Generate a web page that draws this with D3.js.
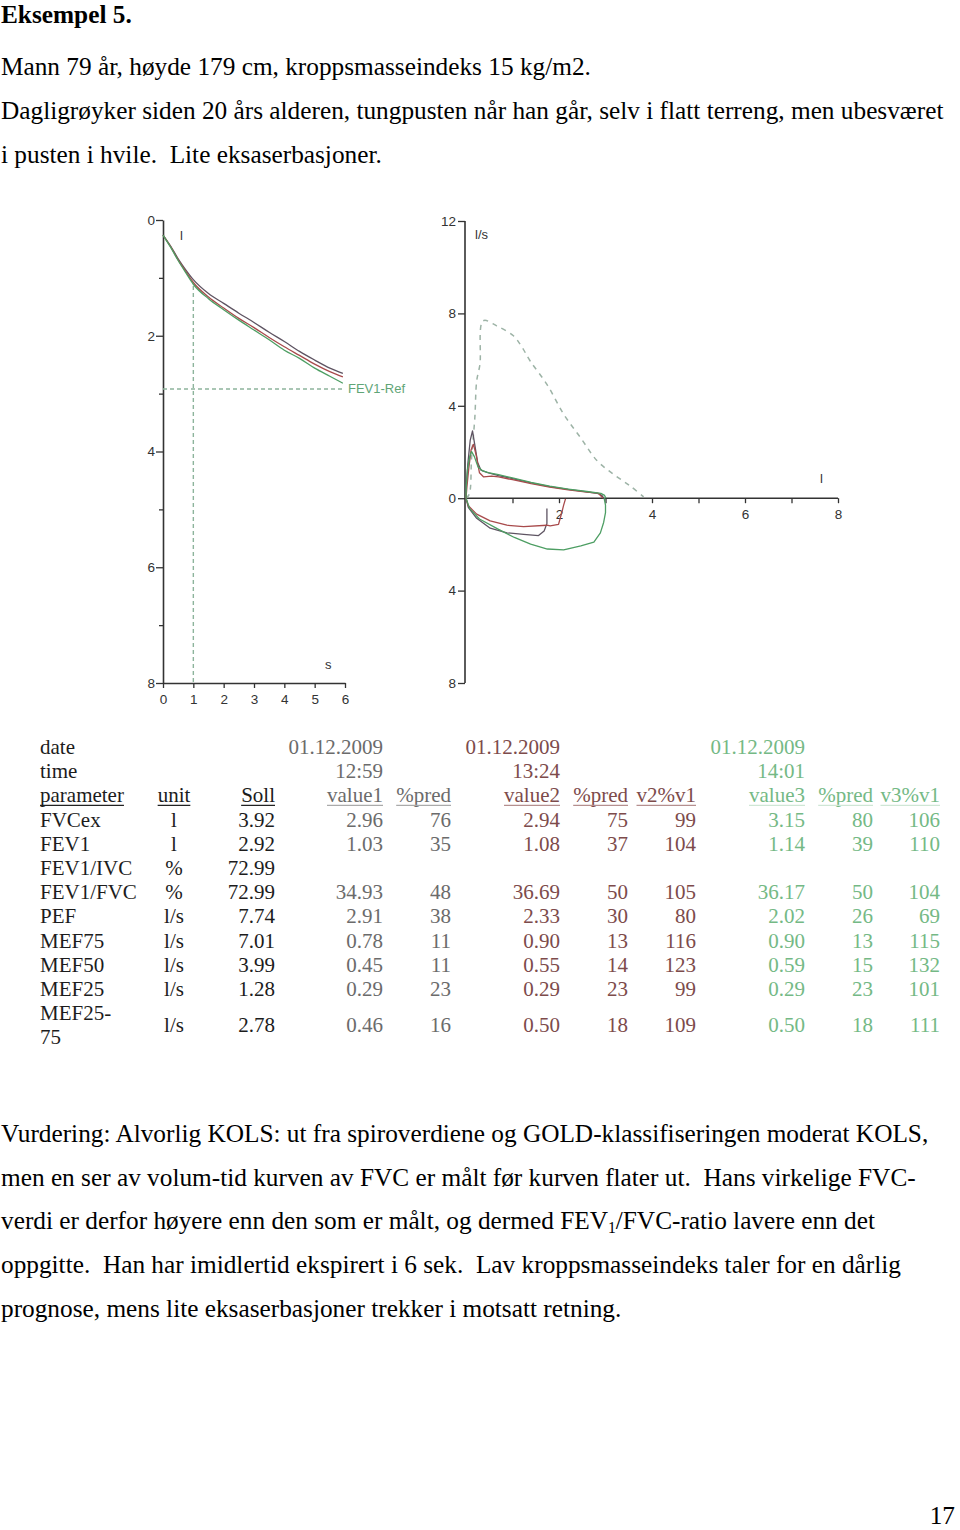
<!DOCTYPE html>
<html><head><meta charset="utf-8">
<script src="https://cdn.jsdelivr.net/npm/d3@7"></script>
<style>
html,body{margin:0;padding:0;background:#fff;}
svg{display:block;}
</style></head>
<body>
<svg id="page" width="960" height="1530"></svg>
<script>
// ---------------- DATA ----------------
const titleText = "Eksempel 5.";
const introLines = [
  "Mann 79 år, høyde 179 cm, kroppsmasseindeks 15 kg/m2.",
  "Dagligrøyker siden 20 års alderen, tungpusten når han går, selv i flatt terreng, men ubesværet",
  "i pusten i hvile.  Lite eksaserbasjoner."
];
const paraLines = [
  "Vurdering: Alvorlig KOLS: ut fra spiroverdiene og GOLD-klassifiseringen moderat KOLS,",
  "men en ser av volum-tid kurven av FVC er målt før kurven flater ut.  Hans virkelige FVC-",
  "verdi er derfor høyere enn den som er målt, og dermed FEV|1|/FVC-ratio lavere enn det",
  "oppgitte.  Han har imidlertid ekspirert i 6 sek.  Lav kroppsmasseindeks taler for en dårlig",
  "prognose, mens lite eksaserbasjoner trekker i motsatt retning."
];
const pageNumber = "17";

// Volume-time curves: time (s), volume (l)
const vtTime = [0, 0.25, 0.5, 0.75, 1, 1.5, 2, 2.5, 3, 3.5, 4, 4.5, 5, 5.5, 5.93];
const vtVol1 = [0.26, 0.45, 0.67, 0.86, 1.03, 1.27, 1.44, 1.61, 1.77, 1.94, 2.10, 2.27, 2.42, 2.56, 2.65];
const vtVol2 = [0.26, 0.46, 0.69, 0.89, 1.08, 1.33, 1.52, 1.70, 1.86, 2.03, 2.19, 2.34, 2.49, 2.62, 2.71];
const vtVol3 = [0.26, 0.47, 0.70, 0.91, 1.11, 1.36, 1.55, 1.73, 1.90, 2.07, 2.25, 2.39, 2.56, 2.70, 2.82];
const fev1Ref = 2.92;
const fev1Time = 1;
const fev1Measured = 1.14;
const vtYTicks = [0, 1, 2, 3, 4, 5, 6, 7, 8];
const vtXTicks = [0, 1, 2, 3, 4, 5, 6];

// Flow-volume: [volume l, flow l/s]
const fvPred = [[0,0],[0.07,0.17],[0.12,1.76],[0.19,3.49],[0.23,5.08],[0.30,5.80],[0.37,7.68],[0.66,7.46],[1.02,7.03],[1.20,6.55],[1.38,5.94],[1.74,4.93],[2.10,3.64],[2.46,2.63],[2.82,1.62],[3.17,1.04],[3.53,0.53],[3.82,0.06]];
const fvExp1 = [[0,0],[0.01,0.6],[0.04,1.5],[0.09,2.5],[0.14,2.91],[0.19,2.3],[0.25,1.55],[0.32,1.22],[0.45,1.12],[0.7,0.98],[1.0,0.85],[1.4,0.66],[1.8,0.50],[2.2,0.38],[2.6,0.27],[2.85,0.20],[2.93,0.10],[2.96,0]];
const fvExp2 = [[0,0],[0.02,0.5],[0.06,1.3],[0.11,2.1],[0.16,2.33],[0.22,1.85],[0.29,1.1],[0.38,0.92],[0.55,0.96],[0.7,0.92],[1.0,0.80],[1.4,0.63],[1.8,0.48],[2.2,0.36],[2.6,0.26],[2.84,0.22],[2.9,0.1],[2.94,0]];
const fvExp3 = [[0,0],[0.005,0.5],[0.03,1.2],[0.08,1.8],[0.12,2.02],[0.18,1.8],[0.26,1.35],[0.36,1.18],[0.5,1.1],[0.7,1.02],[1.0,0.88],[1.4,0.68],[1.8,0.52],[2.2,0.39],[2.6,0.29],[2.9,0.21],[2.98,0.12],[3.01,0]];
const fvIns1 = [[1.74,-0.45],[1.74,-1.1],[1.68,-1.42],[1.56,-1.62],[1.24,-1.57],[0.88,-1.50],[0.52,-1.30],[0.23,-0.87],[0.05,-0.40],[0,0]];
const fvIns2 = [[2.14,-0.03],[2.10,-0.3],[2.06,-0.62],[1.99,-1.13],[1.81,-1.20],[1.74,-1.17],[1.24,-1.23],[0.88,-1.17],[0.52,-0.98],[0.23,-0.69],[0.05,-0.33],[0,0]];
const fvIns3 = [[2.97,0],[3.0,-0.3],[3.0,-0.62],[2.96,-1.05],[2.89,-1.5],[2.75,-1.9],[2.47,-2.06],[2.10,-2.24],[1.75,-2.20],[1.39,-1.99],[1.04,-1.70],[0.68,-1.33],[0.29,-0.90],[0.08,-0.45],[0,0]];
const fvYTicks = [12, 8, 4, 0, -4, -8];
const fvXTicks = [1, 2, 3, 4, 5, 6, 7, 8];

// Table
const paramNames = ["FVCex","FEV1","FEV1/IVC","FEV1/FVC","PEF","MEF75","MEF50","MEF25","MEF25-|75"];
const units = ["l","l","%","%","l/s","l/s","l/s","l/s","l/s"];
const soll = ["3.92","2.92","72.99","72.99","7.74","7.01","3.99","1.28","2.78"];
const value1 = ["2.96","1.03","","34.93","2.91","0.78","0.45","0.29","0.46"];
const pred1 = ["76","35","","48","38","11","11","23","16"];
const value2 = ["2.94","1.08","","36.69","2.33","0.90","0.55","0.29","0.50"];
const pred2 = ["75","37","","50","30","13","14","23","18"];
const v2v1 = ["99","104","","105","80","116","123","99","109"];
const value3 = ["3.15","1.14","","36.17","2.02","0.90","0.59","0.29","0.50"];
const pred3 = ["80","39","","50","26","13","15","23","18"];
const v3v1 = ["106","110","","104","69","115","132","101","111"];
const testDates = ["01.12.2009","01.12.2009","01.12.2009"];
const testTimes = ["12:59","13:24","14:01"];
const headerRow = ["parameter","unit","Soll","value1","%pred","value2","%pred","v2%v1","value3","%pred","v3%v1"];

// ---------------- DRAW ----------------
const svg = d3.select("#page");
const serif = "'Liberation Serif','Times New Roman',serif";
const sans = "'Liberation Sans',Arial,sans-serif";

// calibrate body font size to reference line width
const probe = svg.append("text").attr("font-family", serif).attr("font-size", 100).text(introLines[1]);
const probeW = probe.node().getComputedTextLength();
probe.remove();
const bodySize = 100 * 943 / probeW;

svg.append("text").attr("x", 1).attr("y", 23).attr("font-family", serif)
  .attr("font-weight", "bold").attr("font-size", bodySize).attr("fill", "#000").text(titleText);

introLines.forEach((t, i) => {
  svg.append("text").attr("x", 1).attr("y", 75 + i * 44).attr("font-family", serif)
    .attr("font-size", bodySize).attr("fill", "#000")
    .style("white-space", "pre").text(t);
});

paraLines.forEach((t, i) => {
  const tx = svg.append("text").attr("x", 1).attr("y", 1142 + i * 43.7).attr("font-family", serif)
    .attr("font-size", bodySize).attr("fill", "#000").style("white-space", "pre");
  const parts = t.split("|");
  parts.forEach((p, j) => {
    if (j === 1) {
      tx.append("tspan").attr("font-size", bodySize * 0.62).attr("dy", 4).text(p);
    } else if (j === 2) {
      tx.append("tspan").attr("dy", -4).text(p);
    } else {
      tx.append("tspan").text(p);
    }
  });
});

svg.append("text").attr("x", 955).attr("y", 1524).attr("text-anchor", "end")
  .attr("font-family", serif).attr("font-size", bodySize).attr("fill", "#000").text(pageNumber);

// ---------- Volume-time chart ----------
const vtX = d3.scaleLinear().domain([0, 6]).range([163, 345]);
const vtY = d3.scaleLinear().domain([0, 8]).range([220, 683]);
const axisColor = "#333";

function styleAxis(g) {
  g.selectAll("path.domain").attr("stroke", axisColor).attr("stroke-width", 1.6);
  g.selectAll(".tick line").attr("stroke", axisColor).attr("stroke-width", 1.3);
  g.selectAll(".tick text").attr("font-family", sans).attr("font-size", 13.5).attr("fill", "#333");
}

const vtYAxis = svg.append("g").attr("transform", `translate(${vtX(0)},0)`)
  .call(d3.axisLeft(vtY).tickValues(vtYTicks).tickSize(6).tickSizeOuter(0).tickPadding(2)
    .tickFormat(d => d % 2 ? "" : d));
styleAxis(vtYAxis);
vtYAxis.selectAll(".tick line").attr("x2", d => d % 2 ? -4 : -7);

const vtXAxis = svg.append("g").attr("transform", `translate(0,${vtY(8)})`)
  .call(d3.axisBottom(vtX).tickValues(vtXTicks).tickSize(5).tickSizeOuter(0).tickPadding(6)
    .tickFormat(d3.format("d")));
styleAxis(vtXAxis);

// dashed FEV1 reference lines
const dashCol = "#8db49c";
svg.append("line").attr("x1", vtX(0)).attr("x2", vtX(6)).attr("y1", vtY(fev1Ref)).attr("y2", vtY(fev1Ref))
  .attr("stroke", dashCol).attr("stroke-width", 1.4).attr("stroke-dasharray", "4,3");
svg.append("line").attr("x1", vtX(fev1Time)).attr("x2", vtX(fev1Time)).attr("y1", vtY(fev1Measured)).attr("y2", vtY(8))
  .attr("stroke", dashCol).attr("stroke-width", 1.4).attr("stroke-dasharray", "4,3");
svg.append("text").attr("x", vtX(6) + 3).attr("y", vtY(fev1Ref) + 4).attr("font-family", sans)
  .attr("font-size", 13).attr("fill", "#5fa577").text("FEV1-Ref");

const colDark = "#5e5462", colRed = "#a84a4b", colGreen = "#4d9e63";
const vtLine = d3.line().x(d => vtX(d[0])).y(d => vtY(d[1])).curve(d3.curveMonotoneX);
[[vtVol1, colDark], [vtVol2, colRed], [vtVol3, colGreen]].forEach(([vals, c]) => {
  svg.append("path").datum(vtTime.map((t, i) => [t, vals[i]]))
    .attr("d", vtLine).attr("fill", "none").attr("stroke", c).attr("stroke-width", 1.3);
});
svg.append("text").attr("x", 180).attr("y", 240).attr("font-family", sans).attr("font-size", 13).attr("fill", "#333").text("l");
svg.append("text").attr("x", 325).attr("y", 669).attr("font-family", sans).attr("font-size", 13).attr("fill", "#333").text("s");

// ---------- Flow-volume chart ----------
const fvX = d3.scaleLinear().domain([0, 8]).range([466, 838]);
const fvY = d3.scaleLinear().domain([-8, 12]).range([683, 221]);

const fvYAxis = svg.append("g").attr("transform", `translate(465,0)`)
  .call(d3.axisLeft(fvY).tickValues(fvYTicks).tickSize(7).tickSizeOuter(0).tickPadding(2)
    .tickFormat(d => Math.abs(d)));
styleAxis(fvYAxis);
fvYAxis.select("path.domain").attr("d", `M0,${fvY(12)}V${fvY(-8)}`);

const fvXAxis = svg.append("g").attr("transform", `translate(0,${fvY(0)})`)
  .call(d3.axisBottom(fvX).tickValues(fvXTicks).tickSize(5).tickSizeOuter(0).tickPadding(6)
    .tickFormat(d => d % 2 ? "" : d));
styleAxis(fvXAxis);
fvXAxis.select("path.domain").attr("d", `M465,0H${fvX(8)}`);

const fvLine = d3.line().x(d => fvX(d[0])).y(d => fvY(d[1])).curve(d3.curveLinear);
const fvSmooth = d3.line().x(d => fvX(d[0])).y(d => fvY(d[1])).curve(d3.curveCatmullRom.alpha(0.5));
svg.append("path").datum(fvPred).attr("d", fvSmooth).attr("fill", "none")
  .attr("stroke", "#9db3a6").attr("stroke-width", 1.5).attr("stroke-dasharray", "5,5");

[[fvIns1, colDark], [fvIns2, colRed], [fvIns3, colGreen], [fvExp1, colDark], [fvExp2, colRed], [fvExp3, colGreen]].forEach(([pts, c]) => {
  svg.append("path").datum(pts).attr("d", fvLine).attr("fill", "none")
    .attr("stroke", c).attr("stroke-width", 1.3).attr("stroke-linejoin", "round");
});

svg.append("text").attr("x", 475).attr("y", 239).attr("font-family", sans).attr("font-size", 13).attr("fill", "#333").text("l/s");
svg.append("text").attr("x", 820).attr("y", 483).attr("font-family", sans).attr("font-size", 13).attr("fill", "#333").text("l");

// ---------- Table ----------
const tSize = 21;
const rowBase = 754, rowStep = 24.2;
const colBlack = "#1c1c1c", colV1 = "#6b6b6b", colV2 = "#7d4b4b", colV3 = "#74b985";
const tbl = svg.append("g").attr("font-family", serif).attr("font-size", tSize);

function cell(x, y, txt, color, anchor, underline) {
  const t = tbl.append("text").attr("x", x).attr("y", y).attr("fill", color)
    .attr("text-anchor", anchor).text(txt);
  if (underline) {
    const w = t.node().getComputedTextLength();
    const x0 = anchor === "end" ? x - w : anchor === "middle" ? x - w / 2 : x;
    tbl.append("line").attr("x1", x0).attr("x2", x0 + w).attr("y1", y + 3).attr("y2", y + 3)
      .attr("stroke", underline).attr("stroke-width", 1.1);
  }
  return t;
}

const colX = { param: 40, unit: 174, soll: 275, v1: 383, p1: 451, v2: 560, p2: 628, r2: 696, v3: 805, p3: 873, r3: 940 };
const headerCols = [["param","start",colBlack,"#222"],["unit","middle",colBlack,"#222"],["soll","end",colBlack,"#222"],
  ["v1","end",colV1,"#aaa"],["p1","end",colV1,"#aaa"],["v2","end",colV2,"#b58f8f"],["p2","end",colV2,"#b58f8f"],["r2","end",colV2,"#b58f8f"],
  ["v3","end",colV3,"#cfe6d5"],["p3","end",colV3,"#cfe6d5"],["r3","end",colV3,"#cfe6d5"]];

cell(colX.param, rowBase, "date", colBlack, "start");
cell(colX.param, rowBase + rowStep, "time", colBlack, "start");
[[colX.v1, colV1], [colX.v2, colV2], [colX.v3, colV3]].forEach(([x, c], i) => {
  cell(x, rowBase, testDates[i], c, "end");
  cell(x, rowBase + rowStep, testTimes[i], c, "end");
});
headerCols.forEach(([k, a, c, u], i) => {
  cell(colX[k], rowBase + 2 * rowStep, headerRow[i], c, a, u);
});

paramNames.forEach((p, i) => {
  const last = i === paramNames.length - 1;
  const y = last ? rowBase + (3 + i) * rowStep + 12 : rowBase + (3 + i) * rowStep;
  if (last) {
    const parts = p.split("|");
    cell(colX.param, y - 12, parts[0], colBlack, "start");
    cell(colX.param, y + 12, parts[1], colBlack, "start");
  } else {
    cell(colX.param, y, p, colBlack, "start");
  }
  cell(colX.unit, y, units[i], colBlack, "middle");
  cell(colX.soll, y, soll[i], colBlack, "end");
  cell(colX.v1, y, value1[i], colV1, "end");
  cell(colX.p1, y, pred1[i], colV1, "end");
  cell(colX.v2, y, value2[i], colV2, "end");
  cell(colX.p2, y, pred2[i], colV2, "end");
  cell(colX.r2, y, v2v1[i], colV2, "end");
  cell(colX.v3, y, value3[i], colV3, "end");
  cell(colX.p3, y, pred3[i], colV3, "end");
  cell(colX.r3, y, v3v1[i], colV3, "end");
});
</script>
</body></html>
